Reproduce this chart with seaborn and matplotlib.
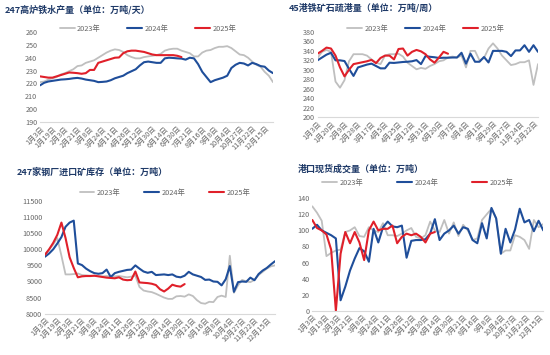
import numpy as np
import pandas as pd
import matplotlib
matplotlib.use('Agg')
import matplotlib.pyplot as plt
from matplotlib.lines import Line2D
import seaborn as sns

sns.set_theme(style='white')
plt.rcParams['font.family'] = ['Noto Sans CJK SC', 'DejaVu Sans']

years = ['2023年', '2024年', '2025年']
palette = {'2023年': '#BFBFBF', '2024年': '#1F4E9A', '2025年': '#E0202A'}
widths = {'2023年': 1.3, '2024年': 1.5, '2025年': 1.5}

labels_a = ['1月3日', '1月19日', '2月3日', '2月21日', '3月8日', '3月24日', '4月11日', '4月26日',
            '5月12日', '5月30日', '6月14日', '6月30日', '7月21日', '8月16日', '9月8日', '10月4日',
            '10月27日', '11月22日', '12月15日']
labels_b = ['1月3日', '1月20日', '2月9日', '2月28日', '3月17日', '4月5日', '4月25日', '5月12日',
            '5月31日', '6月20日', '7月7日', '8月4日', '9月1日', '9月29日', '10月27日', '11月24日',
            '12月22日']

# 247高炉铁水产量
hm_2023 = [221, 221.5, 223, 224, 225, 227, 228, 229.5, 231, 233.5, 234, 236, 237, 238, 240, 242, 244,
           245.5, 246.5, 246, 244.5, 242, 240.5, 239.5, 239.5, 240.5, 241, 241.5, 242, 243, 245.5, 246.5,
           247, 247, 245.5, 244.5, 243.5, 241, 241, 244, 245.5, 246, 247.5, 248.5, 248.5, 249, 247.5, 245,
           242.5, 242, 240, 237, 234.5, 233, 229, 226, 221]
hm_2024 = [218.5, 220.5, 221.5, 222, 222.5, 223, 223.2, 223.5, 224, 224.3, 223.8, 223, 222.5, 222, 221,
           221.2, 221.5, 222.5, 224, 225, 226, 228, 229.5, 231, 234, 236.5, 237, 236.5, 236, 236, 239.5,
           240, 239.8, 239.5, 239.3, 238.5, 240, 239.5, 235, 229, 225, 221, 222.5, 223.5, 224.5, 226, 232,
           234.5, 236, 235.5, 234, 236, 235, 233.5, 233, 230, 228]
hm_2025 = [225.5, 225, 224.5, 224.5, 225.5, 226.5, 227.5, 228.5, 228.3, 228, 227.5, 228, 230.5, 230.5,
           236, 237, 238, 239, 240, 240.2, 243.5, 245, 245.5, 245.5, 245, 244.5, 243.5, 242.5, 242, 242,
           242, 242, 242, 241.5, 240.5]

# 45港铁矿石疏港量
sh_2023 = [325, 338, 342, 338, 275, 262, 278, 318, 333, 333, 333, 330, 322, 315, 312, 330, 333, 333, 334,
           328, 315, 308, 301, 304, 302, 308, 312, 318, 320, 326, 328, 326, 330, 305, 340, 340, 320, 325,
           345, 356, 345, 330, 320, 310, 312, 316, 316, 320, 268, 312]
sh_2024 = [320, 326, 332, 336, 320, 320, 318.5, 302, 287, 305, 308, 311, 313, 308, 303, 303, 315, 314.5,
           315.5, 316.5, 317, 318, 320.5, 312, 329, 327.5, 326.5, 325, 325.5, 325.5, 326, 326, 336, 313,
           334, 317, 317, 327, 315.5, 340, 340, 340, 338, 329, 341, 341, 352, 338, 352, 338]
sh_2025 = [334, 340, 347, 345, 330, 305, 286, 300, 312, 314, 316, 318, 321, 314, 325, 330, 330, 322, 344,
           345, 330, 338, 342, 339, 333, 322, 315, 326, 338, 334]

# 247家钢厂进口矿库存
kc_2023 = [9850, 9990, 10150, 10350, 9800, 9220, 9220, 9230, 9250, 9200, 9190, 9180, 9170, 9170, 9160,
           9170, 9150, 9160, 9170, 9150, 9130, 9150, 9180, 8830, 8720, 8690, 8670, 8620, 8560, 8500, 8460,
           8460, 8540, 8550, 8530, 8600, 8550, 8420, 8330, 8310, 8370, 8360, 8520, 8560, 8520, 9800, 8650,
           8880, 9050, 9000, 8980, 9050, 9200, 9300, 9400, 9470, 9500]
kc_2024 = [9770, 9870, 10000, 10180, 10380, 10700, 10830, 10890, 9560, 9510, 9400, 9320, 9260, 9240,
           9260, 9370, 9140, 9260, 9300, 9330, 9360, 9370, 9500, 9400, 9310, 9270, 9300, 9200, 9210, 9220,
           9200, 9220, 9150, 9130, 9180, 9300, 9220, 9180, 9140, 9050, 9060, 9000, 8990, 8880, 9070, 9480,
           8680, 8980, 9000, 8990, 9120, 9040, 9230, 9340, 9420, 9530, 9630]
kc_2025 = [9830, 10000, 10200, 10450, 10830, 10350, 9750, 9420, 9130, 9160, 9170, 9170, 9180, 9160, 9140,
           9120, 9110, 9100, 9130, 9060, 9040, 9050, 9310, 8971, 8960, 8950, 8930, 8890, 8760, 8690, 8780,
           8900, 8860, 8840, 8920]

# 港口现货成交量
xh_2023 = [130, 122, 112, 68, 72, 75, 76, 98, 100, 104, 93, 92, 104, 100, 98, 109, 94, 94, 93, 96, 100,
           103, 92, 90, 94, 111, 100, 98, 113, 96, 110, 93, 107, 100, 88, 90, 113, 120, 127, 115, 71, 75,
           75, 94, 92, 88, 77, 113, 104, 108]
xh_2024 = [102, 107, 100, 97, 94, 90, 13, 30, 50, 65, 78, 74, 61, 102, 85, 104, 111, 105, 104, 106, 66,
           87, 88, 88, 89, 96, 114, 88, 96, 100, 106, 96, 104, 102, 88, 84, 109, 90, 128, 115, 71, 102,
           85, 101, 127, 110, 113, 99, 112, 100]
xh_2025 = [113, 103, 100, 95, 76, 0, 71, 98, 84, 98, 85, 63, 100, 111, 100, 102, 102, 106, 84, 92, 96,
           94, 96, 92, 85, 96, 98]

W, H = 550, 355
fig = plt.figure(figsize=(W / 100, H / 100), dpi=100)
fig.patch.set_facecolor('white')

TITLE_C = '#1F3A68'
TICK_C = '#666666'


def px(x0, y0, x1, y1):
    return [x0 / W, 1 - y1 / H, (x1 - x0) / W, (y1 - y0) / H]


def panel(rect, series, ylim, ystep, xlabels, xpos, title, tx, ty, lx, ly, colsp):
    ax = fig.add_axes(rect)
    for yr, vals in zip(years, series):
        df = pd.DataFrame({'idx': np.arange(len(vals)), 'val': vals})
        sns.lineplot(data=df, x='idx', y='val', color=palette[yr], linewidth=widths[yr], ax=ax)
    n = max(len(s) for s in series)
    ax.set_xlim(0, n - 1)
    ax.set_ylim(*ylim)
    ax.set_yticks(np.arange(ylim[0], ylim[1] + ystep / 2, ystep))
    ax.set_xticks(xpos)
    ax.set_xticklabels(xlabels, rotation=45, ha='right', rotation_mode='anchor')
    ax.tick_params(axis='both', labelsize=5.2, colors=TICK_C, length=0, pad=2)
    ax.set_xlabel('')
    ax.set_ylabel('')
    for s in ['top', 'right', 'left']:
        ax.spines[s].set_visible(False)
    ax.spines['bottom'].set_color('#D9D9D9')
    ax.spines['bottom'].set_linewidth(0.8)
    fig.text(tx / W, 1 - ty / H, title, fontsize=6.5, fontweight='bold', color=TITLE_C,
             ha='left', va='center')
    handles = [Line2D([0], [0], color=palette[y], linewidth=widths[y]) for y in years]
    ax.legend(handles, years, ncol=3, loc='center', bbox_to_anchor=(lx / W, 1 - ly / H),
              bbox_transform=fig.transFigure, frameon=False, fontsize=5.3, handlelength=2.0,
              handletextpad=0.35, columnspacing=colsp, labelcolor=TICK_C)
    return ax


panel(px(40, 32, 273, 122), [hm_2023, hm_2024, hm_2025], (190, 260), 10, labels_a,
      np.arange(0, 55, 3), '247高炉铁水产量（单位：万吨/天）', 5, 10, 148, 29, 3.6)
panel(px(317.5, 32, 538, 117), [sh_2023, sh_2024, sh_2025], (200, 380), 20, labels_b,
      np.arange(0, 49, 3), '45港铁矿石疏港量（单位：万吨/周）', 289, 8, 426, 29, 2.3)
panel(px(45, 201, 275, 313.7), [kc_2023, kc_2024, kc_2025], (8000, 11500), 500, labels_a,
      np.arange(0, 55, 3), '247家钢厂进口矿库存（单位：万吨）', 17, 172, 165, 193, 3.2)
panel(px(312.3, 198.3, 543.3, 310.7), [xh_2023, xh_2024, xh_2025], (0, 140), 20, labels_a,
      np.linspace(0, 48, 19), '港口现货成交量（单位：万吨）', 298, 169, 418, 183, 4.6)

fig.savefig('out.png', dpi=100, facecolor='white')
